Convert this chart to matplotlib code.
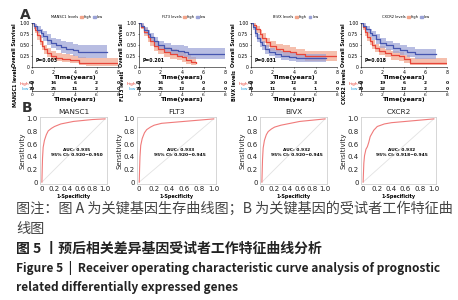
import matplotlib
matplotlib.use("Agg")
import matplotlib.pyplot as plt
from matplotlib.patches import Patch

plt.rcParams['font.family'] = ['DejaVu Sans', 'Noto Sans CJK SC']

W, H = 458, 300

genes = ["MANSC1", "FLT3", "BIVX", "CXCR2"]
p_values = ["P=0.003", "P=0.201", "P=0.031", "P=0.018"]
risk_times = [0, 2, 4, 6, 8]

# survival curves (time in years, survival, lower, upper)
mansc1_high_t = [0, 0.15, 0.3, 0.5, 0.7, 0.9, 1.1, 1.4, 1.8, 2.2, 2.8, 3.5, 4.0, 4.4, 5.0, 8.0]
mansc1_high_s = [1.0, 0.93, 0.85, 0.72, 0.60, 0.48, 0.40, 0.32, 0.25, 0.21, 0.19, 0.17, 0.15, 0.10, 0.09, 0.09]
mansc1_high_lo = [1.0, 0.87, 0.77, 0.62, 0.50, 0.38, 0.30, 0.23, 0.17, 0.13, 0.11, 0.10, 0.08, 0.04, 0.03, 0.03]
mansc1_high_hi = [1.0, 0.98, 0.93, 0.82, 0.71, 0.59, 0.51, 0.43, 0.36, 0.31, 0.29, 0.27, 0.25, 0.22, 0.21, 0.21]
mansc1_low_t = [0, 0.2, 0.5, 0.8, 1.0, 1.4, 1.8, 2.2, 2.7, 3.2, 3.8, 4.3, 5.0, 7.0]
mansc1_low_s = [1.0, 0.93, 0.85, 0.77, 0.70, 0.62, 0.55, 0.50, 0.45, 0.42, 0.38, 0.34, 0.33, 0.33]
mansc1_low_lo = [1.0, 0.87, 0.77, 0.67, 0.59, 0.50, 0.43, 0.38, 0.32, 0.29, 0.25, 0.21, 0.20, 0.20]
mansc1_low_hi = [1.0, 0.98, 0.93, 0.87, 0.81, 0.74, 0.67, 0.63, 0.58, 0.56, 0.53, 0.50, 0.50, 0.50]

flt3_high_t = [0, 0.2, 0.5, 0.8, 1.0, 1.4, 1.8, 2.3, 2.9, 3.5, 4.0, 4.4, 4.8, 5.3]
flt3_high_s = [1.0, 0.92, 0.80, 0.68, 0.58, 0.47, 0.40, 0.34, 0.30, 0.26, 0.22, 0.16, 0.12, 0.10]
flt3_high_lo = [1.0, 0.86, 0.71, 0.57, 0.47, 0.36, 0.29, 0.23, 0.19, 0.15, 0.12, 0.07, 0.04, 0.03]
flt3_high_hi = [1.0, 0.97, 0.89, 0.78, 0.69, 0.58, 0.51, 0.45, 0.41, 0.37, 0.33, 0.27, 0.23, 0.21]
flt3_low_t = [0, 0.2, 0.5, 0.8, 1.0, 1.4, 1.8, 2.3, 3.0, 3.6, 4.2, 4.6, 8.0]
flt3_low_s = [1.0, 0.94, 0.84, 0.75, 0.68, 0.58, 0.49, 0.43, 0.38, 0.36, 0.34, 0.30, 0.30]
flt3_low_lo = [1.0, 0.88, 0.76, 0.65, 0.57, 0.47, 0.38, 0.32, 0.27, 0.24, 0.22, 0.18, 0.18]
flt3_low_hi = [1.0, 0.99, 0.92, 0.84, 0.78, 0.69, 0.60, 0.55, 0.50, 0.49, 0.47, 0.44, 0.44]

bivx_high_t = [0, 0.2, 0.5, 0.8, 1.0, 1.4, 1.8, 2.3, 3.0, 3.6, 4.2, 5.0, 8.0]
bivx_high_s = [1.0, 0.95, 0.86, 0.75, 0.66, 0.56, 0.47, 0.42, 0.37, 0.33, 0.30, 0.25, 0.25]
bivx_high_lo = [1.0, 0.89, 0.78, 0.65, 0.55, 0.45, 0.36, 0.31, 0.26, 0.22, 0.19, 0.14, 0.14]
bivx_high_hi = [1.0, 0.99, 0.94, 0.85, 0.77, 0.67, 0.58, 0.53, 0.49, 0.45, 0.42, 0.37, 0.37]
bivx_low_t = [0, 0.2, 0.4, 0.6, 0.8, 1.0, 1.3, 1.7, 2.2, 2.8, 3.5, 4.2, 7.0]
bivx_low_s = [1.0, 0.90, 0.78, 0.66, 0.56, 0.49, 0.40, 0.33, 0.29, 0.26, 0.23, 0.20, 0.20]
bivx_low_lo = [1.0, 0.83, 0.69, 0.56, 0.46, 0.39, 0.30, 0.24, 0.20, 0.17, 0.14, 0.12, 0.12]
bivx_low_hi = [1.0, 0.96, 0.87, 0.76, 0.66, 0.59, 0.50, 0.43, 0.39, 0.36, 0.33, 0.30, 0.30]

cxcr2_high_t = [0, 0.2, 0.4, 0.6, 0.8, 1.0, 1.3, 1.7, 2.2, 2.8, 3.5, 4.0, 4.6, 8.0]
cxcr2_high_s = [1.0, 0.90, 0.80, 0.69, 0.59, 0.51, 0.43, 0.37, 0.32, 0.27, 0.24, 0.18, 0.10, 0.10]
cxcr2_high_lo = [1.0, 0.83, 0.71, 0.59, 0.49, 0.41, 0.33, 0.27, 0.22, 0.17, 0.14, 0.09, 0.04, 0.04]
cxcr2_high_hi = [1.0, 0.96, 0.89, 0.79, 0.69, 0.61, 0.53, 0.47, 0.42, 0.37, 0.34, 0.28, 0.20, 0.20]
cxcr2_low_t = [0, 0.2, 0.5, 0.8, 1.0, 1.4, 1.8, 2.3, 3.0, 3.6, 4.3, 5.0, 7.0]
cxcr2_low_s = [1.0, 0.94, 0.86, 0.78, 0.72, 0.63, 0.55, 0.49, 0.43, 0.38, 0.34, 0.30, 0.30]
cxcr2_low_lo = [1.0, 0.88, 0.78, 0.68, 0.61, 0.52, 0.44, 0.38, 0.32, 0.27, 0.23, 0.19, 0.19]
cxcr2_low_hi = [1.0, 0.99, 0.94, 0.87, 0.82, 0.74, 0.66, 0.60, 0.55, 0.50, 0.46, 0.42, 0.42]

mansc1_risk_high = [69, 16, 6, 2, 0]
mansc1_risk_low = [70, 25, 11, 2, 0]
flt3_risk_high = [69, 16, 6, 0, 0]
flt3_risk_low = [70, 25, 12, 4, 0]
bivx_risk_high = [69, 20, 12, 3, 0]
bivx_risk_low = [70, 11, 6, 1, 0]
cxcr2_risk_high = [69, 19, 6, 2, 0]
cxcr2_risk_low = [70, 22, 12, 2, 0]

# ROC curves (false positive rate, true positive rate)
mansc1_fpr = [0, 0.005, 0.01, 0.02, 0.04, 0.07, 0.1, 0.15, 0.2, 0.3, 0.4, 0.5, 0.6, 0.7, 0.8, 0.9, 1.0]
mansc1_tpr = [0, 0.20, 0.38, 0.55, 0.66, 0.75, 0.81, 0.85, 0.88, 0.92, 0.94, 0.96, 0.97, 0.98, 0.99, 0.995, 1.0]
flt3_fpr = [0, 0.005, 0.01, 0.02, 0.04, 0.07, 0.1, 0.15, 0.2, 0.3, 0.4, 0.5, 0.6, 0.7, 0.8, 0.9, 1.0]
flt3_tpr = [0, 0.22, 0.40, 0.58, 0.69, 0.78, 0.83, 0.87, 0.90, 0.93, 0.94, 0.95, 0.96, 0.97, 0.98, 0.99, 1.0]
bivx_fpr = [0, 0.005, 0.01, 0.02, 0.04, 0.07, 0.1, 0.15, 0.2, 0.3, 0.4, 0.5, 0.6, 0.7, 0.8, 0.9, 1.0]
bivx_tpr = [0, 0.18, 0.36, 0.54, 0.66, 0.75, 0.80, 0.84, 0.87, 0.90, 0.92, 0.94, 0.96, 0.97, 0.98, 0.99, 1.0]
cxcr2_fpr = [0, 0.005, 0.01, 0.02, 0.04, 0.06, 0.08, 0.1, 0.15, 0.2, 0.3, 0.4, 0.5, 0.6, 0.7, 0.8, 0.9, 1.0]
cxcr2_tpr = [0, 0.15, 0.30, 0.42, 0.52, 0.56, 0.63, 0.72, 0.82, 0.88, 0.92, 0.94, 0.95, 0.96, 0.97, 0.98, 0.99, 1.0]
auc_texts = ["AUC: 0.935\n95% CI: 0.920\u22120.950",
             "AUC: 0.933\n95% CI: 0.920\u22120.945",
             "AUC: 0.932\n95% CI: 0.920\u22120.945",
             "AUC: 0.932\n95% CI: 0.918\u22120.945"]

km_data = [
    [(mansc1_high_t, mansc1_high_s, mansc1_high_lo, mansc1_high_hi), (mansc1_low_t, mansc1_low_s, mansc1_low_lo, mansc1_low_hi)],
    [(flt3_high_t, flt3_high_s, flt3_high_lo, flt3_high_hi), (flt3_low_t, flt3_low_s, flt3_low_lo, flt3_low_hi)],
    [(bivx_high_t, bivx_high_s, bivx_high_lo, bivx_high_hi), (bivx_low_t, bivx_low_s, bivx_low_lo, bivx_low_hi)],
    [(cxcr2_high_t, cxcr2_high_s, cxcr2_high_lo, cxcr2_high_hi), (cxcr2_low_t, cxcr2_low_s, cxcr2_low_lo, cxcr2_low_hi)],
]
risk_data = [(mansc1_risk_high, mansc1_risk_low), (flt3_risk_high, flt3_risk_low),
             (bivx_risk_high, bivx_risk_low), (cxcr2_risk_high, cxcr2_risk_low)]
roc_data = [(mansc1_fpr, mansc1_tpr), (flt3_fpr, flt3_tpr), (bivx_fpr, bivx_tpr), (cxcr2_fpr, cxcr2_tpr)]

RED = '#e8463a'
RED_BAND = '#f2a48a'
BLUE = '#4656b0'
BLUE_BAND = '#9aa2d6'


def box(left, top, w, h):  # pixel box -> figure fraction
    return [left / W, 1 - (top + h) / H, w / W, h / H]


fig = plt.figure(figsize=(W / 100, H / 100), dpi=100)

km_left = [32, 139, 251, 361]
roc_left = [40, 137, 260, 361]
roc_width = [67, 79, 67, 75]

fig.text(20 / W, 1 - 15 / H, "A", fontsize=10, fontweight='bold', color='#333', va='center')
fig.text(22 / W, 1 - 108 / H, "B", fontsize=10, fontweight='bold', color='#333', va='center')

for i, gene in enumerate(genes):
    ax = fig.add_axes(box(km_left[i], 23, 86, 44))
    for (t, s, lo, hi), c, cb in zip(km_data[i], [RED, BLUE], [RED_BAND, BLUE_BAND]):
        ax.fill_between(t, lo, hi, step='post', color=cb, alpha=0.7, lw=0)
        ax.step(t, s, where='post', color=c, lw=0.9)
    ax.set_xlim(0, 8)
    ax.set_ylim(0, 1.0)
    ax.set_xticks([0, 2, 4, 6, 8])
    ax.set_yticks([0, 0.25, 0.5, 0.75, 1.0])
    ax.set_yticklabels(['0', '0.25', '0.50', '0.75', '1.00'])
    ax.tick_params(labelsize=3.3, length=1, width=0.4, pad=0.8)
    for sp in ['top', 'right']:
        ax.spines[sp].set_visible(False)
    for sp in ['left', 'bottom']:
        ax.spines[sp].set_linewidth(0.4)
    ax.set_ylabel("Overall Survival", fontsize=3.5, labelpad=1.5, fontweight='bold')
    ax.set_xlabel("Time(years)", fontsize=4.6, labelpad=0, fontweight='bold')
    ax.text(0.3, 0.12, p_values[i], fontsize=3.3, fontweight='bold')
    handles = [Patch(color='none', label=gene + " levels"),
               Patch(color=RED_BAND, label='high'), Patch(color=BLUE_BAND, label='low')]
    ax.legend(handles=handles, loc='lower center', bbox_to_anchor=(0.5, 1.04), ncol=3,
              fontsize=2.6, frameon=False, handlelength=0.8, handleheight=0.6,
              handletextpad=0.2, columnspacing=0.5, borderpad=0)

    rax = fig.add_axes(box(km_left[i], 81, 86, 10))
    rax.set_xlim(0, 8)
    rax.set_ylim(0, 2)
    for tt, n in zip(risk_times, risk_data[i][0]):
        rax.text(tt, 1.5, str(n), fontsize=3.2, ha='center', va='center', fontweight='bold')
    for tt, n in zip(risk_times, risk_data[i][1]):
        rax.text(tt, 0.5, str(n), fontsize=3.2, ha='center', va='center', fontweight='bold')
    rax.set_xticks([0, 2, 4, 6, 8])
    rax.set_yticks([1.5, 0.5])
    rax.set_yticklabels(['high', 'low'])
    rax.get_yticklabels()[0].set_color(RED)
    rax.get_yticklabels()[1].set_color('#2aa0e0')
    rax.tick_params(labelsize=3.2, length=1, width=0.4, pad=0.8)
    for sp in ['top', 'right']:
        rax.spines[sp].set_visible(False)
    for sp in ['left', 'bottom']:
        rax.spines[sp].set_linewidth(0.4)
    rax.set_xlabel("Time(years)", fontsize=4.6, labelpad=0, fontweight='bold')
    rax.set_ylabel(gene + " levels", fontsize=3.5, labelpad=1, fontweight='bold')

    # ROC
    bx = fig.add_axes(box(roc_left[i], 117, roc_width[i], 67))
    fpr, tpr = roc_data[i]
    bx.plot([0, 1], [0, 1], color='#e2e2e2', lw=0.6)
    bx.plot(fpr, tpr, color='#f07a7a', lw=0.8)
    bx.set_xlim(-0.03, 1.03)
    bx.set_ylim(-0.03, 1.03)
    bx.set_xticks([0, 0.2, 0.4, 0.6, 0.8, 1.0])
    bx.set_xticklabels(['0', '0.2', '0.4', '0.6', '0.8', '1.0'])
    bx.set_yticks([0, 0.2, 0.4, 0.6, 0.8, 1.0])
    bx.set_yticklabels(['0', '0.2', '0.4', '0.6', '0.8', '1.0'])
    bx.tick_params(labelsize=5, length=0, pad=1.5, colors='#222')
    for sp in bx.spines.values():
        sp.set_color('#d0d0d0')
        sp.set_linewidth(0.6)
    bx.set_title(gene, fontsize=5.3, pad=2, color='#222')
    bx.set_xlabel("1-Specificity", fontsize=3.5, labelpad=1.5, fontweight='bold')
    bx.set_ylabel("Sensitivity", fontsize=5, labelpad=1, color='#222')
    bx.text(0.55, 0.47, auc_texts[i], fontsize=3.2, ha='center', va='center',
            fontweight='bold', linespacing=1.2)

cap = ['Noto Sans CJK SC', 'DejaVu Sans']
fig.text(16 / W, 1 - 209 / H, "图注：图 A 为关键基因生存曲线图；B 为关键基因的受试者工作特征曲",
         fontsize=10.2, family=cap, color='#444', va='center')
fig.text(16 / W, 1 - 229 / H, "线图", fontsize=10.2, family=cap, color='#444', va='center')
fig.text(16 / W, 1 - 249 / H, "图 5 丨预后相关差异基因受试者工作特征曲线分析",
         fontsize=10, family=cap, color='#222', fontweight='bold', va='center')
fig.text(16 / W, 1 - 268 / H, "Figure 5  |  Receiver operating characteristic curve analysis of prognostic",
         fontsize=8.6, family=cap, color='#222', fontweight='bold', va='center')
fig.text(16 / W, 1 - 287 / H, "related differentially expressed genes",
         fontsize=8.6, family=cap, color='#222', fontweight='bold', va='center')

fig.savefig("out.png", dpi=100)
